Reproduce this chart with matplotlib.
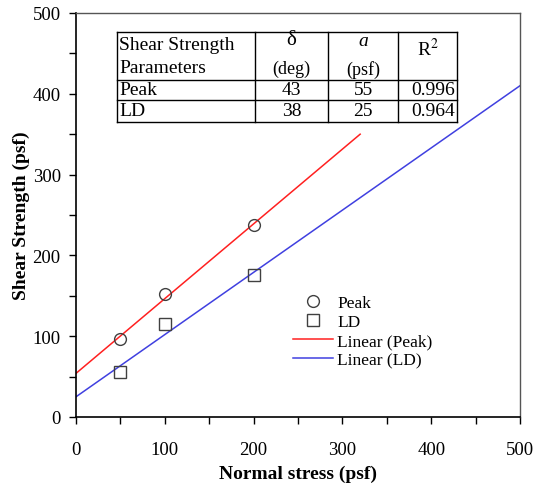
import matplotlib
matplotlib.use("Agg")
import matplotlib.pyplot as plt
from matplotlib.ticker import MultipleLocator
from matplotlib.lines import Line2D

plt.rcParams['font.family'] = ['Liberation Serif', 'DejaVu Serif']
plt.rcParams['mathtext.fontset'] = 'stix'

# Data
normal_stress = [50, 100, 200]
peak_strength = [97, 152, 238]
ld_strength = [56, 115, 176]

peak_line_x = [0, 320]
peak_line_y = [54, 350]
ld_line_x = [0, 500]
ld_line_y = [25, 410]

table_rows = ["Peak", "LD"]
table_delta = ["43", "38"]
table_a = ["55", "25"]
table_r2 = ["0.996", "0.964"]

fig = plt.figure(figsize=(5.33, 4.89), dpi=100)
ax = fig.add_axes([0.1426, 0.1452, 0.8330, 0.8262])

ax.plot(normal_stress, peak_strength, linestyle='none', marker='o', markersize=8.5,
        markerfacecolor='none', markeredgecolor='#404040', markeredgewidth=1.0, label='Peak', zorder=3)
ax.plot(normal_stress, ld_strength, linestyle='none', marker='s', markersize=8.5,
        markerfacecolor='none', markeredgecolor='#404040', markeredgewidth=1.0, label='LD', zorder=3)
ax.plot(peak_line_x, peak_line_y, color='#ff2020', lw=1.1, label='Linear (Peak)')
ax.plot(ld_line_x, ld_line_y, color='#4040e0', lw=1.1, label='Linear (LD)')

ax.set_xlim(0, 500)
ax.set_ylim(0, 500)
ax.xaxis.set_major_locator(MultipleLocator(100))
ax.yaxis.set_major_locator(MultipleLocator(100))
ax.xaxis.set_minor_locator(MultipleLocator(50))
ax.yaxis.set_minor_locator(MultipleLocator(50))
ax.tick_params(which='both', direction='out', length=5, width=1.0, labelsize=13.5, color='black')
ax.tick_params(axis='x', pad=12)
ax.tick_params(axis='y', pad=6)
for s in ['left', 'bottom']:
    ax.spines[s].set_linewidth(1.2)
    ax.spines[s].set_color('black')
for s in ['top', 'right']:
    ax.spines[s].set_linewidth(1.0)
    ax.spines[s].set_color('#555555')

ax.set_xlabel('Normal stress (psf)', fontsize=14, fontweight='bold', labelpad=5)
ax.set_ylabel('Shear Strength (psf)', fontsize=14, fontweight='bold', labelpad=2)

leg = ax.legend(loc='upper left', bbox_to_anchor=(0.4735, 0.32), frameon=False, fontsize=12.5,
                handlelength=2.3, handletextpad=0.25, labelspacing=0.17, borderaxespad=0,
                numpoints=1)

# Table (axes coordinates)
x_edges = [0.0923, 0.4032, 0.5676, 0.7252, 0.8581]
y_edges = [0.953, 0.834, 0.785, 0.730]
tr = ax.transAxes
for xe in x_edges:
    ax.add_line(Line2D([xe, xe], [y_edges[0], y_edges[-1]], transform=tr, color='black', lw=1.0, zorder=5))
for ye in y_edges:
    ax.add_line(Line2D([x_edges[0], x_edges[-1]], [ye, ye], transform=tr, color='black', lw=1.0, zorder=5))
ax.fill_between([x_edges[0], x_edges[-1]], y_edges[-1], y_edges[0], transform=tr, color='white', zorder=4)

fs = 14
pad = 0.005
ax.text(x_edges[0] + pad, 0.923, 'Shear Strength', transform=tr, fontsize=fs, va='center', ha='left', zorder=6)
ax.text(x_edges[0] + pad, 0.864, 'Parameters', transform=tr, fontsize=fs, va='center', ha='left', zorder=6)
cx1 = (x_edges[1] + x_edges[2]) / 2
cx2 = (x_edges[2] + x_edges[3]) / 2
cx3 = (x_edges[3] + x_edges[4]) / 2
ax.text(cx1, 0.934, 'δ', transform=tr, fontsize=15, va='center', ha='center', zorder=6)
ax.text(cx1, 0.862, '(deg)', transform=tr, fontsize=13, va='center', ha='center', zorder=6)
ax.text(cx2, 0.932, 'a', transform=tr, fontsize=fs, va='center', ha='center', style='italic', zorder=6)
ax.text(cx2, 0.862, '(psf)', transform=tr, fontsize=13, va='center', ha='center', zorder=6)
ax.text(cx3, 0.913, 'R$^2$', transform=tr, fontsize=fs, va='center', ha='center', zorder=6)

row_centers = [(y_edges[1] + y_edges[2]) / 2, (y_edges[2] + y_edges[3]) / 2]
for i, yc in enumerate(row_centers):
    ax.text(x_edges[0] + pad, yc, table_rows[i], transform=tr, fontsize=fs, va='center', ha='left', zorder=6)
    ax.text(cx1, yc, table_delta[i], transform=tr, fontsize=fs, va='center', ha='center', zorder=6)
    ax.text(cx2, yc, table_a[i], transform=tr, fontsize=fs, va='center', ha='center', zorder=6)
    ax.text(x_edges[4] - pad, yc, table_r2[i], transform=tr, fontsize=fs, va='center', ha='right', zorder=6)

fig.savefig('out.png', dpi=100)
